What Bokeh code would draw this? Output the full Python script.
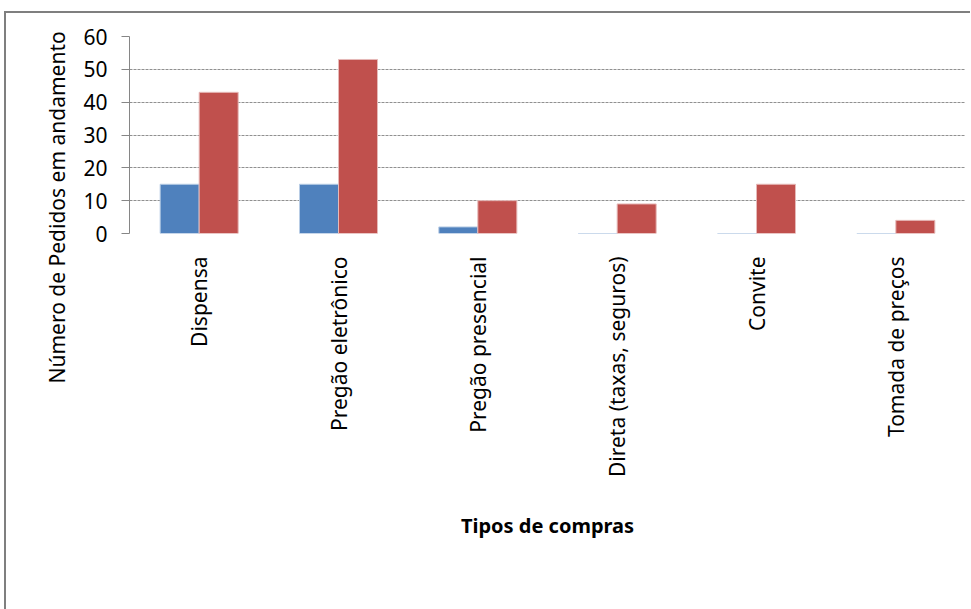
import math
from bokeh.plotting import figure
from bokeh.models import (FactorRange, Range1d, ColumnDataSource, Title, Legend, LegendItem,
                          SingleIntervalTicker)
from bokeh.transform import dodge
from bokeh.embed import file_html
from bokeh.resources import INLINE

categories = ["Dispensa", "Pregão eletrônico", "Pregão presencial",
              "Direta (taxas, seguros)", "Convite", "Tomada de preços"]
v2009 = [15, 15, 2, 0, 0, 0]
v2010 = [43, 53, 10, 9, 15, 4]
series_names = ["2009 (a partir de 10/11)", "2010 (até outubro)"]
y_ticks_interval = 10
y_title = "Número de Pedidos em andamento"
x_title = "Tipos de compras"

FONT = "Noto Sans"
BLUE = "#4F81BD"
RED = "#C0504D"

src = ColumnDataSource(dict(cat=categories, a=v2009, b=v2010))

p = figure(x_range=FactorRange(*categories, range_padding=0), y_range=Range1d(0, 60),
           frame_width=836, frame_height=197, output_backend="svg", toolbar_location=None,
           min_border_left=123, min_border_top=23, min_border_right=5, min_border_bottom=0)
p.styles = {"border-left": "2px solid #7f7f7f", "border-top": "2px solid #7f7f7f",
            "margin-left": "4px", "margin-top": "11px"}
p.outline_line_color = None
p.background_fill_color = "white"
p.border_fill_color = "white"

r1 = p.vbar(x=dodge("cat", -0.14, range=p.x_range), top="a", width=0.28, source=src,
            fill_color=BLUE, line_color="#b9cde5", line_width=1)
r2 = p.vbar(x=dodge("cat", 0.14, range=p.x_range), top="b", width=0.28, source=src,
            fill_color=RED, line_color="#e6b9b8", line_width=1)

# axes
p.xaxis.axis_line_color = None
p.xaxis.major_tick_line_color = None
p.xaxis.minor_tick_line_color = None
p.xaxis.major_label_orientation = math.pi / 2
p.xaxis.major_label_standoff = 17
p.xaxis.major_label_text_font = FONT
p.xaxis.major_label_text_font_size = "21px"
p.xaxis.major_label_text_color = "black"

p.yaxis.ticker = SingleIntervalTicker(interval=y_ticks_interval)
p.yaxis.axis_line_color = "#868686"
p.yaxis.major_tick_line_color = "#868686"
p.yaxis.major_tick_out = 8
p.yaxis.major_tick_in = 0
p.yaxis.minor_tick_line_color = None
p.yaxis.major_label_standoff = 14
p.yaxis.major_label_text_font = FONT
p.yaxis.major_label_text_font_size = "21px"
p.yaxis.major_label_text_color = "black"

p.xgrid.grid_line_color = None
p.ygrid.grid_line_color = "#909090"
p.ygrid.grid_line_dash = "3 1"
p.ygrid.grid_line_width = 1

# y axis title: Excel starts it below the frame, so anchor its start there
p.add_layout(Title(text=y_title, align="left", offset=-150, standoff=20,
                   text_font=FONT, text_font_size="21px", text_font_style="normal",
                   text_color="black"), "left")

# x axis title as a below-panel title (sized by its height)
p.add_layout(Title(text=x_title, align="center", standoff=61,
                   text_font=FONT, text_font_size="20px", text_font_style="bold",
                   text_color="black"), "below")

legend = Legend(items=[LegendItem(label=series_names[0], renderers=[r1]),
                       LegendItem(label=series_names[1], renderers=[r2])],
                location="top", orientation="horizontal",
                padding=0, margin=9, spacing=2, label_standoff=6, label_width=267,
                glyph_width=12, glyph_height=12, label_height=12,
                border_line_color=None, background_fill_alpha=0,
                label_text_font=FONT, label_text_font_size="21px",
                label_text_color="black")
p.add_layout(legend, "below")

open("out.html", "w").write(file_html(p, INLINE))
